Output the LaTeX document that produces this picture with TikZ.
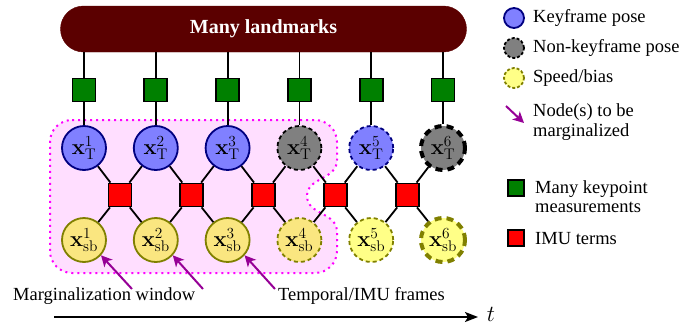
\RequirePackage{fix-cm}
\documentclass[tikz,border=0pt]{standalone}
\usepackage[no-math]{fontspec}
\setmainfont{Liberation Serif}
\usetikzlibrary{arrows.meta,shapes.geometric}
\definecolor{barred}{RGB}{91,0,0}
\definecolor{kfblue}{RGB}{128,128,255}
\definecolor{kfborder}{RGB}{0,0,128}
\definecolor{nkgray}{RGB}{128,128,128}
\definecolor{sbyellow}{RGB}{255,255,135}
\definecolor{sbyellowin}{RGB}{250,230,128}
\definecolor{sbborder}{RGB}{128,128,0}
\definecolor{measgreen}{RGB}{0,128,0}
\definecolor{imured}{RGB}{255,0,0}
\definecolor{pinkfill}{RGB}{255,222,255}
\definecolor{pinkdot}{RGB}{255,0,255}
\definecolor{marrowc}{RGB}{150,0,150}
\tikzset{
  every node/.style={font=\fontsize{18.5}{22}\selectfont},
  barbox/.style={fill=barred, draw=barred, rounded corners=23pt, minimum width=406pt, minimum height=46pt, text=white, font=\fontsize{20}{22}\selectfont\bfseries},
  sqbox/.style={rectangle, draw=black, line width=1.8pt, minimum size=23pt, inner sep=0pt},
  meas/.style={sqbox, fill=measgreen},
  imu/.style={sqbox, fill=imured},
  varc/.style={circle, minimum size=44pt, inner sep=0pt, line width=1.8pt, font=\fontsize{22}{24}\selectfont},
  kf/.style={varc, fill=kfblue, draw=kfborder},
  kfdash/.style={varc, fill=kfblue, draw=kfborder, dash pattern=on 4pt off 3pt},
  nkf/.style={varc, fill=nkgray, draw=black, dash pattern=on 4pt off 3pt},
  nkfthick/.style={varc, fill=nkgray, draw=black, line width=4pt, dash pattern=on 7pt off 5pt},
  botc/.style={varc, draw=sbborder},
  sbin/.style={botc, fill=sbyellowin},
  sbindash/.style={botc, fill=sbyellowin, dash pattern=on 4pt off 3pt},
  sbdash/.style={botc, fill=sbyellow, dash pattern=on 4pt off 3pt},
  sbthick/.style={botc, fill=sbyellow, line width=4pt, dash pattern=on 7pt off 5pt},
  conn/.style={draw=black, line width=1.8pt},
  marrow/.style={draw=marrowc, line width=2pt, -{Stealth[length=11pt,width=11pt,inset=3pt]}},
  lgtext/.style={anchor=west, inner sep=0pt},
  lgc/.style={circle, minimum size=20pt, inner sep=0pt, line width=1.8pt},
  lgsq/.style={rectangle, draw=black, line width=1.8pt, minimum size=16pt, inner sep=0pt},
}
\begin{document}
\begin{tikzpicture}[x=1pt,y=-1pt]
\useasboundingbox (0,0) rectangle (683,330);
% marginalization window region
\path[fill=pinkfill, draw=pinkdot, line width=2pt, dash pattern=on 2pt off 4pt]
  (72,120) -- (315,120) .. controls (327.1,120) and (337,129.9) .. (337,142)
  -- (337,160) .. controls (337,180) and (307,177) .. (307,196)
  .. controls (307,215) and (337,212) .. (337,232)
  -- (337,251) .. controls (337,263.1) and (327.1,273) .. (315,273)
  -- (72,273) .. controls (59.9,273) and (50,263.1) .. (50,251)
  -- (50,142) .. controls (50,129.9) and (59.9,120) .. (72,120) -- cycle;

% landmarks bar
\node[barbox] (lm) at (263.5,29) {Many landmarks};

% measurement squares
\node[meas] (g1) at (84,90) {};
\node[meas] (g2) at (155.8,90) {};
\node[meas] (g3) at (227.6,90) {};
\node[meas] (g4) at (299.4,90) {};
\node[meas] (g5) at (371.2,90) {};
\node[meas] (g6) at (443,90) {};

% pose nodes
\node[kf] (T1) at (84,148) {$\mathbf{x}_{\mathrm{T}}^{1}$};
\node[kf] (T2) at (155.8,148) {$\mathbf{x}_{\mathrm{T}}^{2}$};
\node[kf] (T3) at (227.6,148) {$\mathbf{x}_{\mathrm{T}}^{3}$};
\node[nkf] (T4) at (299.4,148) {$\mathbf{x}_{\mathrm{T}}^{4}$};
\node[kfdash] (T5) at (371.2,148) {$\mathbf{x}_{\mathrm{T}}^{5}$};
\node[nkfthick] (T6) at (443,148) {$\mathbf{x}_{\mathrm{T}}^{6}$};

% speed/bias nodes
\node[sbin] (S1) at (84,240) {$\mathbf{x}_{\mathrm{sb}}^{1}$};
\node[sbin] (S2) at (155.8,240) {$\mathbf{x}_{\mathrm{sb}}^{2}$};
\node[sbin] (S3) at (227.6,240) {$\mathbf{x}_{\mathrm{sb}}^{3}$};
\node[sbindash] (S4) at (299.4,240) {$\mathbf{x}_{\mathrm{sb}}^{4}$};
\node[sbdash] (S5) at (371.2,240) {$\mathbf{x}_{\mathrm{sb}}^{5}$};
\node[sbthick] (S6) at (443,240) {$\mathbf{x}_{\mathrm{sb}}^{6}$};

% IMU squares
\node[imu] (r1) at (119.9,195) {};
\node[imu] (r2) at (191.7,195) {};
\node[imu] (r3) at (263.5,195) {};
\node[imu] (r4) at (335.3,195) {};
\node[imu] (r5) at (407.1,195) {};

% connectors
\foreach \i in {1,...,6} {
  \draw[conn] (g\i |- lm.south) -- (g\i.north);
  \draw[conn] (g\i) -- (T\i);
}
\foreach \i [evaluate=\i as \j using int(\i+1)] in {1,...,5} {
  \draw[conn] (T\i) -- (r\i);
  \draw[conn] (r\i) -- (T\j);
  \draw[conn] (S\i) -- (r\i);
  \draw[conn] (r\i) -- (S\j);
}

% labels and arrows
\node[lgtext] (mw) at (13,296) {Marginalization window};
\node[lgtext] (tf) at (278,296) {Temporal/IMU frames};
\coordinate (m1) at (132,289);
\coordinate (m2) at (203,289);
\coordinate (m3) at (275,289);
\draw[marrow] (m1) -- (S1.-42);
\draw[marrow] (m2) -- (S2.-42);
\draw[marrow] (m3) -- (S3.-42);

% time axis
\coordinate (ax0) at (54,317);
\node[inner sep=0pt, font=\fontsize{23}{25}\selectfont] (tl) at (491,314) {$t$};
\coordinate (ax1) at (478,317);
\draw[line width=2pt, -{Stealth[length=13pt,width=10pt,inset=3pt]}] (ax0) -- (ax1);

% legend
\node[lgc, fill=kfblue, draw=kfborder] (lk) at (514,18) {};
\node[lgtext] (lkt) at (533,18) {Keyframe pose};
\node[lgc, fill=nkgray, draw=black, dash pattern=on 3pt off 2pt] (ln) at (514,48) {};
\node[lgtext] (lnt) at (533,48) {Non-keyframe pose};
\node[lgc, fill=sbyellow, draw=sbborder, dash pattern=on 3pt off 2pt] (ls) at (514,78) {};
\node[lgtext] (lst) at (533,78) {Speed/bias};
\coordinate (la0) at (506,106);
\coordinate (la1) at (524,123);
\draw[marrow] (la0) -- (la1);
\node[lgtext] (lat) at (533,112) {Node(s) to be};
\node[lgtext] (lat2) at (533,132) {marginalized};
\node[lgsq, fill=measgreen] (lg) at (516,188) {};
\node[lgtext] (lgt) at (535,189) {Many keypoint};
\node[lgtext] (lgt2) at (535,207) {measurements};
\node[lgsq, fill=imured] (lr) at (516,238) {};
\node[lgtext] (lrt) at (535,239) {IMU terms};
\end{tikzpicture}
\end{document}
